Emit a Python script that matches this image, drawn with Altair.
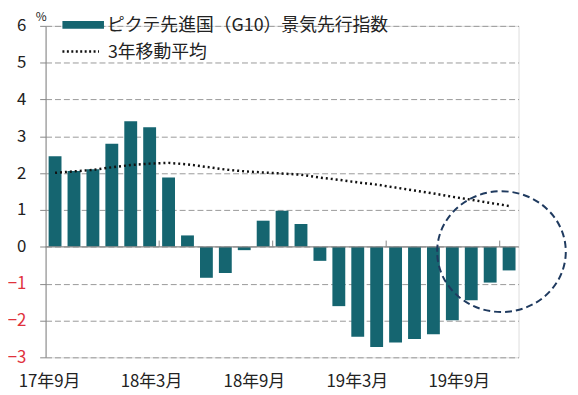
import altair as alt
import pandas as pd

months = ["17年9月", "17年10月", "17年11月", "17年12月", "18年1月", "18年2月",
          "18年3月", "18年4月", "18年5月", "18年6月", "18年7月", "18年8月",
          "18年9月", "18年10月", "18年11月", "18年12月", "19年1月", "19年2月",
          "19年3月", "19年4月", "19年5月", "19年6月", "19年7月", "19年8月", "19年9月"]
index_values = [2.46, 2.06, 2.11, 2.80, 3.41, 3.25, 1.88, 0.31, -0.84, -0.71,
                -0.09, 0.71, 0.98, 0.62, -0.38, -1.61, -2.44, -2.72, -2.60, -2.50,
                -2.37, -1.99, -1.45, -0.97, -0.64]
ma_values = [2.01, 2.05, 2.09, 2.16, 2.22, 2.26, 2.28, 2.24, 2.17, 2.10,
             2.05, 2.02, 1.99, 1.96, 1.88, 1.82, 1.75, 1.69, 1.61, 1.53,
             1.45, 1.36, 1.28, 1.19, 1.11]
label_months = ["17年9月", "18年3月", "18年9月", "19年3月", "19年9月"]
label_shifts = [-5.6, -17.3, -28.0, -38.7, -50.4]
tick_months = ["18年3月", "18年9月", "19年3月", "19年9月"]
y_ticks = [-3, -2, -1, 0, 1, 2, 3, 4, 5, 6]
highlight_month = ["19年9月"]
highlight_center = [-0.13]
series_names = ["ピクテ先進国（G10）景気先行指数", "3年移動平均"]

FONT = "Noto Sans CJK JP"
BAR = "#156570"
ELLIPSE = "M-1.065,0A1.065,1,0,1,1,1.065,0A1.065,1,0,1,1,-1.065,0Z"

df = pd.DataFrame({"month": months, "value": index_values, "ma": ma_values})

label_test = " || ".join([f"datum.value === '{m}'" for m in label_months])
offset_cond = {
    "condition": [{"test": f"datum.value === '{m}'", "value": s}
                  for m, s in zip(label_months, label_shifts)],
    "value": 0,
}

xscale = alt.Scale(domain=months, paddingInner=0.32, paddingOuter=0.16)
yscale = alt.Scale(domain=[-3, 6], nice=False)

x_enc = alt.X("month:N", sort=months, scale=xscale, title=None,
              axis=alt.Axis(labelExpr=f"({label_test}) ? datum.label : ''",
                            labelAngle=0, domain=False, ticks=False, grid=False,
                            labelFont=FONT, labelFontSize=17, labelColor="#222",
                            labelPadding=16, labelOffset=offset_cond,
                            labelOverlap=False))
y_axis = alt.Axis(values=y_ticks, tickCount=20, format="d", grid=True, gridDash=[6, 3],
                  gridColor="#999", gridWidth=1, domainColor="#888",
                  tickColor="#888", tickSize=6, labelPadding=14,
                  labelOverlap=False, labelFlush=False,
                  labelFont=FONT, labelFontSize=17,
                  labelColor=alt.condition("datum.value < 0", alt.value("#e0323c"), alt.value("#222")),
                  titleAngle=0, titleX=-5, titleY=-9, titleAlign="center",
                  titleBaseline="middle", titleFont=FONT, titleFontSize=12,
                  titleFontWeight="normal", titleColor="#222")
y_enc = alt.Y("value:Q", scale=yscale, title="%", axis=y_axis)

base = alt.Chart(df)
bars = base.mark_bar(color=BAR).encode(x=x_enc, y=y_enc)

zero = alt.Chart(pd.DataFrame({"z": [0]})).mark_rule(color="#888", strokeWidth=1.2).encode(
    y=alt.Y("z:Q", scale=yscale, axis=y_axis, title="%"))

ticks = alt.Chart(pd.DataFrame({"month": tick_months, "y0": [0] * 4, "y1": [0.17] * 4})).mark_rule(
    color="#888", strokeWidth=1, xOffset=-3).encode(
    x=alt.X("month:N", sort=months, scale=xscale, bandPosition=0),
    y=alt.Y("y0:Q", scale=yscale, axis=y_axis, title="%"), y2="y1:Q")

line = base.mark_line(color="#111", strokeWidth=2.5, strokeDash=[2, 3]).encode(
    x=alt.X("month:N", sort=months, scale=xscale),
    y=alt.Y("ma:Q", scale=yscale, axis=y_axis, title="%"))

circle = alt.Chart(pd.DataFrame({"month": highlight_month, "c": highlight_center})).mark_point(
    shape=ELLIPSE, filled=False, size=14900, color="#1f3a5f", strokeWidth=2,
    strokeDash=[7, 4], opacity=1, xOffset=-7.7).encode(
    x=alt.X("month:N", sort=months, scale=xscale),
    y=alt.Y("c:Q", scale=yscale, axis=y_axis, title="%"))

one = pd.DataFrame({"a": [0]})
leg_rect = alt.Chart(one).mark_rect(color=BAR).encode(
    x=alt.value(17), x2=alt.value(59), y=alt.value(-5), y2=alt.value(3))
leg_text1 = alt.Chart(one).mark_text(align="left", baseline="middle", font=FONT,
                                     fontSize=18, color="#222").encode(
    x=alt.value(62), y=alt.value(0), text=alt.value(series_names[0]))
leg_line = alt.Chart(one).mark_rule(color="#111", strokeWidth=2.5, strokeDash=[2, 2.5]).encode(
    x=alt.value(17), x2=alt.value(54), y=alt.value(26))
leg_text2 = alt.Chart(one).mark_text(align="left", baseline="middle", font=FONT,
                                     fontSize=18, color="#222").encode(
    x=alt.value(63), y=alt.value(27), text=alt.value(series_names[1]))

chart = alt.layer(bars, zero, ticks, line, circle, leg_rect, leg_text1, leg_line, leg_text2).properties(
    width=478, height=335,
    autosize=alt.AutoSizeParams(type="none"),
    padding={"left": 38, "top": 16, "right": 52, "bottom": 35},
).configure_view(stroke=None).configure(background="white")

chart.save("out.html", embed_options={"renderer": "svg", "actions": False})
